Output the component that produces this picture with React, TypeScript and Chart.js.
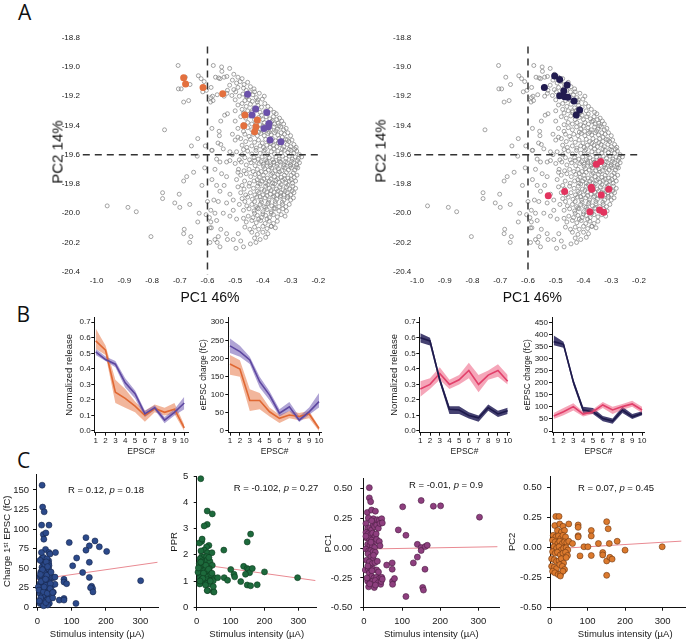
import React, { useEffect, useRef } from "react";
import { Chart, registerables } from "chart.js";
Chart.register(...registerables);

const SANS = "'Liberation Sans', Arial, Helvetica, sans-serif";
type Pt = [number, number];

// ---------------- Panel A data (PC1, PC2) ----------------
const A_X_TICKS = [-1.0, -0.9, -0.8, -0.7, -0.6, -0.5, -0.4, -0.3, -0.2];
const A_Y_TICKS = [-18.8, -19.0, -19.2, -19.4, -19.6, -19.8, -20.0, -20.2, -20.4];

const GRAY_SPARSE: Pt[] = [
  [-0.706,-18.99],[-0.633,-19.06],[-0.623,-19.08],[-0.663,-19.12],[-0.705,-19.15],[-0.617,-19.17],[-0.686,-19.24],[-0.668,-19.23],[-0.589,-19.24],[-0.755,-19.43],
  [-0.635,-19.49],[-0.658,-19.54],[-0.608,-19.54],[-0.637,-19.61],[-0.585,-19.57],[-0.65,-19.72],[-0.675,-19.75],[-0.686,-19.78],[-0.61,-19.69],[-0.62,-19.81],
  [-0.762,-19.86],[-0.762,-19.9],[-0.702,-19.87],[-0.718,-19.93],[-0.7,-19.96],[-0.664,-19.94],[-0.962,-19.95],[-0.887,-19.96],[-0.857,-19.99],[-0.63,-20.0],
  [-0.6,-19.92],[-0.593,-20.03],[-0.605,-20.01],[-0.635,-20.06],[-0.586,-20.1],[-0.684,-20.11],[-0.686,-20.14],[-0.66,-20.16],[-0.804,-20.16],[-0.664,-20.2],[-0.591,-20.2],
  [-0.68,-19.07],[-0.695,-19.15],[-0.612,-19.1],[-0.604,-19.16],[-0.582,-19.2],[-0.58,-19.23],
  [-0.579,-18.99],[-0.549,-19.0],[-0.571,-19.07],[-0.555,-19.08],[-0.54,-19.07],[-0.587,-19.14],[-0.588,-19.21],[-0.565,-19.19],[-0.528,-19.16],[-0.538,-19.33],
  [-0.528,-19.32],[-0.552,-19.37],[-0.584,-19.42],[-0.558,-19.44],[-0.557,-19.47],[-0.562,-19.52],[-0.552,-19.53],[-0.583,-19.57],[-0.543,-19.56],[-0.519,-19.58],
  [-0.567,-19.63],[-0.555,-19.65],[-0.531,-19.65],[-0.519,-19.64],[-0.573,-19.7],[-0.549,-19.73],[-0.584,-19.77],[-0.567,-19.81],[-0.531,-19.75],[-0.54,-19.81],
  [-0.555,-19.85],[-0.519,-19.87],[-0.577,-19.91],[-0.561,-19.92],[-0.531,-19.93],[-0.507,-19.91],[-0.588,-19.98],[-0.573,-20.0],[-0.543,-20.0],[-0.507,-19.98],
  [-0.588,-20.06],[-0.567,-20.05],[-0.519,-20.02],[-0.495,-20.04],[-0.591,-20.1],[-0.552,-20.11],[-0.531,-20.14],[-0.489,-20.14],[-0.561,-20.16],[-0.573,-20.18],
  [-0.528,-20.18],[-0.507,-20.18],[-0.555,-20.23],[-0.565,-20.2],[-0.497,-20.24],
];

const GRAY_CORE: Pt[] = [
  [-0.52,-19.01],[-0.548,-19.03],[-0.505,-19.05],[-0.49,-19.07],[-0.53,-19.065],[-0.475,-19.08],[-0.56,-19.075],
  [-0.51,-19.09],[-0.495,-19.11],[-0.482,-19.1],[-0.468,-19.12],[-0.455,-19.105],[-0.445,-19.135],[-0.432,-19.15],[-0.47,-19.145],[-0.49,-19.14],[-0.505,-19.155],[-0.46,-19.16],[-0.52,-19.125],
  [-0.53,-19.18],[-0.512,-19.195],[-0.498,-19.17],[-0.485,-19.2],[-0.472,-19.185],[-0.458,-19.205],[-0.447,-19.17],[-0.436,-19.19],[-0.424,-19.21],[-0.413,-19.18],[-0.402,-19.22],[-0.395,-19.2],[-0.465,-19.23],[-0.45,-19.225],[-0.438,-19.235],[-0.42,-19.24],[-0.5,-19.225],[-0.54,-19.2],
  [-0.49,-19.26],[-0.475,-19.25],[-0.46,-19.27],[-0.445,-19.255],[-0.432,-19.28],[-0.418,-19.262],[-0.405,-19.275],[-0.393,-19.25],[-0.382,-19.27],[-0.372,-19.29],[-0.39,-19.3],[-0.41,-19.31],[-0.425,-19.295],[-0.44,-19.31],[-0.455,-19.3],[-0.47,-19.315],[-0.36,-19.31],[-0.352,-19.32],[-0.5,-19.3],
  [-0.48,-19.34],[-0.462,-19.35],[-0.446,-19.335],[-0.43,-19.36],[-0.415,-19.345],[-0.4,-19.36],[-0.388,-19.34],[-0.375,-19.355],[-0.362,-19.34],[-0.35,-19.36],[-0.34,-19.35],[-0.332,-19.37],[-0.345,-19.385],[-0.358,-19.39],[-0.37,-19.375],[-0.382,-19.39],[-0.395,-19.38],[-0.41,-19.395],[-0.424,-19.38],[-0.44,-19.39],[-0.455,-19.38],[-0.47,-19.395],[-0.325,-19.39],[-0.5,-19.37],
  [-0.49,-19.42],[-0.47,-19.44],[-0.455,-19.415],[-0.44,-19.43],[-0.425,-19.41],[-0.41,-19.425],[-0.396,-19.44],[-0.384,-19.415],[-0.372,-19.43],[-0.36,-19.41],[-0.348,-19.425],[-0.336,-19.41],[-0.325,-19.43],[-0.316,-19.42],[-0.31,-19.45],[-0.322,-19.46],[-0.334,-19.45],[-0.346,-19.465],[-0.358,-19.45],[-0.37,-19.465],[-0.382,-19.455],[-0.395,-19.47],[-0.408,-19.455],[-0.42,-19.47],[-0.435,-19.46],[-0.45,-19.475],[-0.465,-19.46],[-0.3,-19.47],[-0.51,-19.46],
  [-0.5,-19.5],[-0.48,-19.49],[-0.462,-19.51],[-0.445,-19.495],[-0.43,-19.515],[-0.416,-19.5],[-0.402,-19.52],[-0.39,-19.495],[-0.378,-19.51],[-0.366,-19.49],[-0.354,-19.505],[-0.342,-19.49],[-0.33,-19.51],[-0.318,-19.495],[-0.306,-19.51],[-0.295,-19.5],[-0.288,-19.53],[-0.3,-19.545],[-0.312,-19.53],[-0.325,-19.545],[-0.337,-19.53],[-0.35,-19.545],[-0.362,-19.535],[-0.374,-19.55],[-0.386,-19.535],[-0.398,-19.55],[-0.41,-19.54],[-0.424,-19.555],[-0.44,-19.54],[-0.458,-19.55],[-0.475,-19.535],[-0.28,-19.55],
  [-0.495,-19.58],[-0.475,-19.6],[-0.455,-19.575],[-0.44,-19.595],[-0.425,-19.57],[-0.41,-19.59],[-0.396,-19.575],[-0.383,-19.6],[-0.37,-19.58],[-0.358,-19.595],[-0.346,-19.575],[-0.334,-19.59],[-0.322,-19.57],[-0.31,-19.585],[-0.299,-19.57],[-0.288,-19.59],[-0.278,-19.575],[-0.268,-19.6],[-0.272,-19.625],[-0.283,-19.615],[-0.294,-19.63],[-0.305,-19.61],[-0.317,-19.625],[-0.329,-19.61],[-0.341,-19.63],[-0.353,-19.615],[-0.365,-19.635],[-0.377,-19.62],[-0.39,-19.635],[-0.403,-19.615],[-0.417,-19.63],[-0.432,-19.62],[-0.448,-19.635],[-0.465,-19.62],[-0.485,-19.635],[-0.26,-19.615],[-0.51,-19.6],
  [-0.5,-19.66],[-0.478,-19.65],[-0.46,-19.67],[-0.443,-19.655],[-0.428,-19.675],[-0.413,-19.66],[-0.398,-19.68],[-0.385,-19.655],[-0.372,-19.67],[-0.36,-19.65],[-0.348,-19.665],[-0.336,-19.65],[-0.324,-19.67],[-0.312,-19.655],[-0.3,-19.67],[-0.289,-19.655],[-0.278,-19.67],[-0.268,-19.655],[-0.274,-19.69],[-0.285,-19.705],[-0.297,-19.69],[-0.308,-19.705],[-0.32,-19.69],[-0.332,-19.71],[-0.344,-19.695],[-0.356,-19.71],[-0.368,-19.69],[-0.38,-19.705],[-0.393,-19.695],[-0.406,-19.715],[-0.42,-19.7],[-0.435,-19.715],[-0.45,-19.7],[-0.468,-19.71],[-0.488,-19.7],
  [-0.48,-19.74],[-0.46,-19.73],[-0.444,-19.75],[-0.428,-19.735],[-0.413,-19.755],[-0.398,-19.74],[-0.384,-19.76],[-0.371,-19.735],[-0.358,-19.75],[-0.346,-19.735],[-0.334,-19.755],[-0.322,-19.74],[-0.31,-19.76],[-0.298,-19.74],[-0.287,-19.755],[-0.277,-19.74],[-0.282,-19.78],[-0.293,-19.795],[-0.305,-19.78],[-0.317,-19.795],[-0.329,-19.775],[-0.341,-19.79],[-0.353,-19.775],[-0.365,-19.795],[-0.377,-19.78],[-0.39,-19.795],[-0.403,-19.78],[-0.417,-19.795],[-0.432,-19.78],[-0.448,-19.795],[-0.466,-19.78],[-0.495,-19.77],
  [-0.49,-19.82],[-0.468,-19.835],[-0.45,-19.815],[-0.434,-19.83],[-0.419,-19.815],[-0.404,-19.835],[-0.39,-19.815],[-0.377,-19.83],[-0.364,-19.815],[-0.351,-19.835],[-0.339,-19.82],[-0.327,-19.84],[-0.315,-19.82],[-0.303,-19.835],[-0.292,-19.815],[-0.282,-19.83],[-0.288,-19.86],[-0.3,-19.875],[-0.312,-19.86],[-0.324,-19.875],[-0.336,-19.86],[-0.348,-19.875],[-0.36,-19.855],[-0.373,-19.87],[-0.386,-19.855],[-0.4,-19.875],[-0.414,-19.86],[-0.429,-19.875],[-0.445,-19.86],[-0.462,-19.875],[-0.48,-19.86],
  [-0.475,-19.9],[-0.455,-19.89],[-0.438,-19.905],[-0.422,-19.89],[-0.407,-19.91],[-0.392,-19.895],[-0.378,-19.91],[-0.364,-19.89],[-0.35,-19.905],[-0.337,-19.89],[-0.324,-19.91],[-0.312,-19.895],[-0.3,-19.91],[-0.29,-19.895],[-0.305,-19.94],[-0.317,-19.955],[-0.329,-19.94],[-0.342,-19.955],[-0.355,-19.935],[-0.368,-19.95],[-0.382,-19.935],[-0.396,-19.955],[-0.41,-19.94],[-0.425,-19.955],[-0.44,-19.94],[-0.458,-19.95],[-0.485,-19.94],
  [-0.47,-19.98],[-0.45,-19.97],[-0.432,-19.985],[-0.416,-19.97],[-0.4,-19.99],[-0.385,-19.975],[-0.37,-19.99],[-0.356,-19.97],[-0.342,-19.985],[-0.328,-19.97],[-0.315,-19.985],[-0.32,-20.02],[-0.334,-20.01],[-0.348,-20.025],[-0.362,-20.01],[-0.376,-20.03],[-0.39,-20.015],[-0.405,-20.03],[-0.42,-20.015],[-0.436,-20.03],[-0.453,-20.02],[-0.47,-20.035],
  [-0.46,-20.06],[-0.44,-20.05],[-0.424,-20.065],[-0.408,-20.05],[-0.392,-20.07],[-0.377,-20.055],[-0.362,-20.07],[-0.348,-20.055],[-0.355,-20.1],[-0.37,-20.09],[-0.385,-20.105],[-0.4,-20.09],[-0.415,-20.11],[-0.43,-20.095],[-0.447,-20.11],[-0.465,-20.095],
  [-0.44,-20.13],[-0.42,-20.145],[-0.4,-20.13],[-0.382,-20.14],[-0.43,-20.17],[-0.41,-20.18],[-0.39,-20.165],[-0.425,-20.2],[-0.445,-20.21],[-0.47,-20.23],[-0.48,-20.19],[-0.37,-20.09],
];

const GRAY_CORE2: Pt[] = [
  [-0.405,-19.33],[-0.383,-19.322],[-0.366,-19.368],[-0.342,-19.402],[-0.353,-19.438],[-0.377,-19.445],[-0.4,-19.405],[-0.415,-19.445],[-0.33,-19.48],[-0.312,-19.498],
  [-0.345,-19.518],[-0.37,-19.522],[-0.392,-19.565],[-0.36,-19.56],[-0.33,-19.56],[-0.305,-19.563],[-0.285,-19.562],[-0.275,-19.64],[-0.296,-19.645],[-0.318,-19.648],
  [-0.34,-19.645],[-0.362,-19.652],[-0.385,-19.645],[-0.407,-19.648],[-0.43,-19.64],[-0.28,-19.685],[-0.302,-19.68],[-0.326,-19.682],[-0.35,-19.68],[-0.374,-19.68],
  [-0.398,-19.665],[-0.29,-19.725],[-0.315,-19.722],[-0.34,-19.718],[-0.365,-19.725],[-0.39,-19.72],[-0.415,-19.728],[-0.298,-19.77],[-0.322,-19.765],[-0.347,-19.765],
  [-0.371,-19.768],[-0.396,-19.765],[-0.42,-19.77],[-0.31,-19.808],[-0.334,-19.805],[-0.358,-19.8],[-0.383,-19.805],[-0.41,-19.8],[-0.295,-19.848],[-0.32,-19.85],
  [-0.345,-19.848],[-0.37,-19.845],[-0.395,-19.845],[-0.42,-19.85],[-0.31,-19.885],[-0.335,-19.88],[-0.36,-19.885],[-0.385,-19.88],[-0.41,-19.888],[-0.33,-19.925],
  [-0.355,-19.92],[-0.38,-19.925],[-0.405,-19.925],[-0.43,-19.92],[-0.36,-19.965],[-0.39,-19.96],[-0.42,-19.965],[-0.37,-20.0],[-0.4,-20.005],[-0.43,-20.0],
  [-0.385,-20.04],[-0.415,-20.04],[-0.44,-19.3],[-0.418,-19.225],[-0.43,-19.17],[-0.46,-19.2],[-0.475,-19.29],[-0.49,-19.48],[-0.47,-19.565],[-0.49,-19.72],
  [-0.475,-19.81],[-0.465,-19.92],
];

const ORANGE_A: Pt[] = [[-0.686,-19.074],[-0.679,-19.117],[-0.616,-19.14],[-0.545,-19.183],[-0.465,-19.329],[-0.469,-19.402],[-0.42,-19.363],[-0.425,-19.409],[-0.43,-19.443]];
const PURPLE_A: Pt[] = [[-0.455,-19.187],[-0.426,-19.288],[-0.439,-19.329],[-0.386,-19.311],[-0.378,-19.386],[-0.38,-19.409],[-0.396,-19.42],[-0.374,-19.5],[-0.335,-19.511]];
const NAVY_A: Pt[] = [[-0.504,-19.062],[-0.486,-19.085],[-0.541,-19.14],[-0.459,-19.124],[-0.471,-19.162],[-0.486,-19.197],[-0.468,-19.203],[-0.456,-19.208],[-0.434,-19.233],[-0.414,-19.295],[-0.426,-19.329]];
const PINK_A: Pt[] = [[-0.338,-19.646],[-0.354,-19.666],[-0.527,-19.88],[-0.468,-19.851],[-0.372,-19.823],[-0.37,-19.837],[-0.336,-19.876],[-0.309,-19.837],[-0.377,-19.99],[-0.342,-19.978],[-0.327,-19.994]];

const A1_HLINE: Pt[] = [[-1.05,-19.6],[-0.2,-19.6]];
const A1_VLINE: Pt[] = [[-0.6,-18.86],[-0.6,-20.42]];
const A2_HLINE: Pt[] = [[-1.01,-19.6],[-0.195,-19.6]];
const A2_VLINE: Pt[] = [[-0.6,-18.86],[-0.6,-20.4]];

// ---------------- Panel B data ----------------
const EPSC = [1, 2, 3, 4, 5, 6, 7, 8, 9, 10];
const NR_TICKS = [0, 0.1, 0.2, 0.3, 0.4, 0.5, 0.6, 0.7];
const CH_TICKS_B2 = [0, 50, 100, 150, 200, 250, 300];
const CH_TICKS_B4 = [0, 50, 100, 150, 200, 250, 300, 350, 400, 450];

const ORANGE_NR_MEAN = [0.58, 0.52, 0.25, 0.21, 0.16, 0.10, 0.145, 0.12, 0.14, 0.02];
const ORANGE_NR_LO = [0.53, 0.49, 0.18, 0.15, 0.12, 0.06, 0.12, 0.10, 0.11, 0.0];
const ORANGE_NR_HI = [0.66, 0.55, 0.33, 0.27, 0.19, 0.13, 0.17, 0.15, 0.18, 0.04];
const PURPLE_NR_MEAN = [0.51, 0.46, 0.43, 0.31, 0.24, 0.11, 0.15, 0.07, 0.12, 0.18];
const PURPLE_NR_LO = [0.49, 0.45, 0.41, 0.28, 0.21, 0.09, 0.135, 0.05, 0.10, 0.14];
const PURPLE_NR_HI = [0.53, 0.48, 0.45, 0.34, 0.26, 0.13, 0.165, 0.09, 0.14, 0.22];

const PURPLE_CH_MEAN = [235, 219, 196, 136, 99, 49, 67, 30, 53, 81];
const PURPLE_CH_LO = [215, 205, 185, 120, 85, 40, 55, 25, 45, 65];
const PURPLE_CH_HI = [255, 235, 205, 150, 110, 60, 80, 40, 65, 105];
const ORANGE_CH_MEAN = [185, 171, 84, 84, 53, 35, 44, 40, 47, 7];
const ORANGE_CH_LO = [155, 150, 55, 60, 40, 22, 35, 30, 35, 0];
const ORANGE_CH_HI = [210, 195, 115, 105, 65, 45, 55, 50, 55, 12];

const NAVY_NR_MEAN = [0.60, 0.58, 0.33, 0.14, 0.135, 0.10, 0.085, 0.15, 0.11, 0.13];
const NAVY_NR_LO = [0.57, 0.55, 0.31, 0.11, 0.11, 0.08, 0.06, 0.13, 0.09, 0.11];
const NAVY_NR_HI = [0.63, 0.60, 0.35, 0.16, 0.16, 0.12, 0.10, 0.17, 0.13, 0.15];
const PINK_NR_MEAN = [0.27, 0.30, 0.37, 0.30, 0.33, 0.39, 0.30, 0.36, 0.39, 0.32];
const PINK_NR_LO = [0.22, 0.27, 0.33, 0.27, 0.30, 0.34, 0.25, 0.33, 0.35, 0.30];
const PINK_NR_HI = [0.32, 0.34, 0.41, 0.33, 0.36, 0.44, 0.36, 0.39, 0.43, 0.36];

const NAVY_CH_MEAN = [370, 359, 204, 87, 80, 52, 41, 87, 59, 73];
const NAVY_CH_LO = [355, 345, 190, 75, 70, 40, 30, 75, 50, 65];
const NAVY_CH_HI = [395, 370, 215, 100, 95, 62, 52, 100, 70, 82];
const PINK_CH_MEAN = [62, 80, 101, 70, 80, 108, 87, 101, 112, 87];
const PINK_CH_LO = [50, 65, 85, 60, 70, 95, 70, 88, 100, 75];
const PINK_CH_HI = [75, 95, 115, 80, 90, 120, 100, 112, 125, 100];

// ---------------- Panel C data (stimulus µA, value) ----------------
const STIM_TICKS = [0, 100, 200, 300];
const C1_TICKS = [0, 25, 50, 75, 100, 125, 150];
const C2_TICKS = [0, 1, 2, 3, 4, 5];
const PC_TICKS = [-0.5, -0.25, 0, 0.25, 0.5];

const C1_POINTS: Pt[] = [
  [14,156],[15.5,128],[20,122],[12.5,105],[34,105],[17.5,93],[25,95],[19,87],[24,74],[34,70],[37,68],[53,70],
  [13.6,62.6],[17.5,63.8],[15.5,57.5],[13.6,51.2],[19.4,50.4],[25.2,47],[33,59.6],[33,56.3],[34,53.3],[33,49.1],[21.4,42.8],[7.8,38.6],[13.6,38.6],
  [17.5,34.4],[27.2,34.4],[35,34.4],[30,37.8],[17.5,30.2],[7.8,30.2],[14.6,26],[2.9,26],[22.3,23.9],[32,25.2],[41.7,26.9],[51.5,29.4],[23.3,19.7],
  [37,19.7],[46.6,19.3],[7.8,17.6],[15.5,15.5],[22.3,13.4],[32,15.5],[37,13.4],[41.7,15.5],[27.2,9.2],[12.6,9.2],[17.5,7.1],[7.8,5],[35,5],[22.3,2.9],
  [30,2.9],[15.5,4.2],[10,45],[20,44],[28,41],[5,22],[10,12],[18,20],[25,28],[38,30],[43,38],[8,60],[22,55],[28,62],[12,70],[26,58],[40,45],[18,2],
  [25,6],[6,8],[33,10],[45,12],[11,33],[29,18],[37,24],[20,26],[15,48],[30,52],[24,36],[9,42],[45,19],[48,38],
  [93,82.7],[141.7,89],[151.5,78.5],[168,84.8],[180.6,77.3],[202,71.4],[141.7,73],[103,53],[114.6,63],[151.5,57.5],[132,44.5],[151.5,38.2],[158,26.9],
  [161,24],[155,25],[162,19.7],[77.7,35.7],[77.7,32.3],[85.4,30.2],[51.5,38.6],[64,9.2],[77.7,11.3],[77.7,9.2],[112.6,5],[301,34],
];
const C1_FIT: Pt[] = [[0, 35.5], [350, 57.5]];

const C2_POINTS: Pt[] = [
  [31,3.67],[46,3.56],[31,3.16],[22,3.1],[14.6,2.51],[7.8,2.45],[36,2.36],[29,2.3],[22,2.18],[12.7,2.15],[32,2.08],[45,2.08],[80,2.18],[149,2.49],[159,2.79],[12,4.9],
  [14.6,1.93],[22.4,1.93],[29.3,1.93],[9.8,1.85],[17.6,1.77],[25.4,1.75],[31.2,1.8],[39,1.75],[45.9,1.6],[7.8,1.67],[14.6,1.62],[22.4,1.56],[29.3,1.53],
  [37.1,1.48],[9.8,1.48],[14.6,1.38],[23.4,1.4],[29.3,1.35],[39,1.32],[7.8,1.28],[18.5,1.22],[25.4,1.19],[33.2,1.16],[43.9,1.13],[51.7,1.13],[9.8,1.13],
  [15.6,1.07],[23.4,1.03],[31.2,1.05],[39,1.01],[48.8,1.01],[12.7,0.95],[21.5,0.95],[30.2,0.91],[39,0.89],[8.8,0.89],[32.2,0.64],[48.8,0.6],[3.9,1.34],
  [5,1.5],[12,1.72],[20,1.3],[27,1.6],[35,1.45],[42,1.25],[18,1.1],[26,0.85],[10,1.0],[36,1.9],[16,2.6],[40,1.0],[45,1.3],
  [62,1.13],[81,1.13],[91,1.03],[100.5,1.44],[110,1.26],[112,1.16],[130,0.98],[138.5,1.56],[149,1.48],[153,1.44],[156,1.32],[164,1.48],[144,1.26],
  [149,0.85],[159,0.82],[178.5,0.86],[200,1.35],[297.6,1.13],[49,0.79],[51,0.58],[31,0.64],
];
const C2_FIT: Pt[] = [[0, 1.65], [350, 1.02]];

const C3_POINTS: Pt[] = [
  [14,0.508],[14,0.422],[17.5,0.39],[8.7,0.3],[20,0.32],[30,0.31],[24.5,0.247],[11.4,0.253],
  [5.2,0.207],[9.6,0.167],[15.7,0.172],[20.1,0.153],[24.5,0.194],[28,0.18],[33.2,0.194],[37.6,0.167],[35,0.239],[40.2,0.234],[46.4,0.247],[42,0.207],[48,0.212],
  [5.2,0.132],[11.4,0.121],[17.5,0.113],[22.7,0.126],[28.9,0.099],[7,0.086],[14,0.078],[20.1,0.067],[27.1,0.051],[33.2,0.073],[40.2,0.056],
  [9.6,0.032],[15.7,0.024],[21.9,0.019],[28,0.005],[5.2,-0.008],[12.2,-0.022],[17.5,-0.022],[23.6,-0.03],[29.7,-0.035],[10.5,-0.048],[17.5,-0.075],
  [24.5,-0.094],[7,-0.102],[14,-0.116],[21.9,-0.129],[28.9,-0.121],[35,-0.11],[3.5,-0.183],[11.4,-0.175],[17.5,-0.169],[24.5,-0.177],[33.2,-0.183],
  [14,-0.21],[20.1,-0.237],[26.2,-0.25],[33.2,-0.245],[40.2,-0.255],[46.4,-0.245],[9.6,-0.277],[15.7,-0.29],[22.7,-0.277],[29.7,-0.272],[37.6,-0.29],
  [43.7,-0.304],[12.2,-0.325],[27.1,-0.331],[21,-0.19],
  [5,0.1],[18,0.05],[25,-0.06],[32,0.12],[10,-0.15],[38,-0.2],[45,-0.28],[20,0.23],[8,-0.25],[30,-0.31],[15,-0.3],[42,0.02],[48,-0.26],
  [90,0.153],[101.5,0.347],[110,0.108],[150,0.4],[182,0.352],[201,0.355],[303,0.26],[140,0.032],[150,0.005],[150,-0.02],[160.5,0.013],[166,0.024],
  [140,-0.075],[129.5,-0.124],[59.5,-0.142],[74,-0.124],[74,-0.177],[160,-0.177],[75,-0.277],[75,-0.304],[80,-0.255],[154,-0.33],[156,-0.352],[110,-0.406],
];
const C3_FIT: Pt[] = [[0, -0.008], [350, 0.012]];

const C4_POINTS: Pt[] = [
  [15.5,0.261],[24.1,0.261],[12.9,0.185],[25.9,0.198],[34.5,0.179],[19.8,0.144],[30.2,0.13],[38.8,0.144],[8.6,0.103],[15.5,0.09],[22.4,0.098],
  [28.4,0.076],[34.5,0.103],[41.4,0.09],[6.9,0.063],[13.8,0.049],[20.7,0.035],[25.9,0.054],[32.8,0.035],[38.8,0.049],[44.8,0.043],[50,0.054],
  [10.3,0.008],[17.2,-0.005],[24.1,0.008],[30.2,-0.019],[36.2,-0.005],[43.1,0],[47.4,-0.019],[6.9,-0.033],[13.8,-0.046],[19.8,-0.038],[27.6,-0.06],
  [34.5,-0.046],[41.4,-0.038],[46.6,-0.065],[4.3,-0.092],[11.2,-0.1],[17.2,-0.114],[24.1,-0.109],[30.2,-0.092],[36.2,-0.128],[43.1,-0.082],
  [4.3,-0.155],[11.2,-0.163],[17.2,-0.174],[25.9,-0.141],[32.8,-0.155],[38.8,-0.182],[6.9,-0.196],[12.9,-0.209],[21.6,-0.223],[28.4,-0.217],
  [34.5,-0.196],[27.6,-0.236],
  [50,0.198],[60,0.035],[75,0.19],[75,0.17],[75,0.1],[75,0.09],[80,-0.068],[90.5,0.008],[101,0.008],[110,0.144],[110,0.098],[110,-0.065],[129,0.035],
  [140.5,-0.04],[140.5,-0.06],[151,0.217],[155,0.158],[158,0.035],[151,-0.11],[159.5,-0.08],[165.5,-0.095],[151,-0.23],[179,0.054],[200,-0.02],[299,0.008],
];
const C4_FIT: Pt[] = [[0, -0.011], [350, 0.055]];

// ---------------- helpers ----------------
const toXY = (pts: Pt[]) => pts.map(([x, y]) => ({ x, y }));
const series = (xs: number[], ys: number[]) => xs.map((x, i) => ({ x, y: ys[i] }));

interface AxisSpec {
  min: number; max: number; ticks: number[]; fmt: (v: number) => string;
  size: number; pad: number; tick: number; font: number; line: boolean;
  title?: string; titleFont?: number; titlePad?: number;
}

function makeAxis(a: AxisSpec, horizontal: boolean): any {
  return {
    type: "linear",
    position: horizontal ? "bottom" : "left",
    min: a.min,
    max: a.max,
    afterBuildTicks: (s: any) => { s.ticks = a.ticks.map((v) => ({ value: v })); },
    afterFit: (s: any) => { if (horizontal) s.height = a.size; else s.width = a.size; },
    ticks: {
      autoSkip: false, maxRotation: 0, minRotation: 0, padding: a.pad, color: "#1a1a1a",
      font: { family: SANS, size: a.font },
      callback: (v: any) => a.fmt(Number(v)),
    },
    grid: { display: a.tick > 0, drawOnChartArea: false, drawTicks: a.tick > 0, tickLength: a.tick, color: "#111", lineWidth: 1 },
    border: { display: a.line, color: "#111", width: 1 },
    title: a.title
      ? {
          display: true, text: a.title, color: "#1a1a1a",
          font: { family: SANS, size: a.titleFont },
          padding: horizontal ? { top: 0, bottom: a.titlePad } : { top: a.titlePad, bottom: 0 },
        }
      : { display: false },
  };
}

function baseOptions(padding: any, x: any, y: any): any {
  return {
    responsive: false,
    animation: false,
    events: [],
    layout: { padding },
    plugins: { legend: { display: false }, tooltip: { enabled: false } },
    scales: { x, y },
  };
}

const f1 = (v: number) => v.toFixed(1);
const f2 = (v: number) => v.toFixed(2);
const fi = (v: number) => String(Math.round(v));

// ---------- Panel A configs ----------
function pcaConfig(colored: { pts: Pt[]; color: string }[], hline: Pt[], vline: Pt[], xMin: number, xMax: number, ySize: number, padRight: number): any {
  const dash = { type: "scatter", showLine: true, borderColor: "#333", borderWidth: 1.5, borderDash: [7, 5], pointRadius: 0, clip: false };
  return {
    type: "scatter",
    data: {
      datasets: [
        ...colored.map((c) => ({ type: "scatter", data: toXY(c.pts), pointRadius: 3.5, backgroundColor: c.color, borderColor: c.color, borderWidth: 0, clip: false })),
        { ...dash, data: toXY(hline) },
        { ...dash, data: toXY(vline) },
        { type: "scatter", data: toXY([...GRAY_SPARSE, ...GRAY_CORE, ...GRAY_CORE2]), pointRadius: 2.0, backgroundColor: "rgba(255,255,255,0)", borderColor: "#858585", borderWidth: 0.75, clip: false },
      ],
    },
    options: baseOptions(
      { left: 0, right: padRight, top: 37.7, bottom: 0 },
      makeAxis({ min: xMin, max: xMax, ticks: A_X_TICKS, fmt: f1, size: 38.3, pad: 4.5, tick: 0, font: 8, line: false }, true),
      makeAxis({ min: -20.4, max: -18.8, ticks: A_Y_TICKS, fmt: f1, size: ySize, pad: 2.9, tick: 0, font: 8, line: false }, false)
    ),
  };
}

// ---------- Panel B configs ----------
interface Band { mean: number[]; lo: number[]; hi: number[]; line: string; fill: string }
function bandConfig(bands: Band[], x: AxisSpec, y: AxisSpec, padRight: number): any {
  const lines = bands.map((b) => ({ type: "line", data: series(EPSC, b.mean), borderColor: b.line, borderWidth: 1.6, pointRadius: 0, tension: 0, fill: false }));
  const fills: any[] = [];
  bands.forEach((b) => {
    fills.push({ type: "line", data: series(EPSC, b.lo), borderWidth: 0, borderColor: "rgba(0,0,0,0)", pointRadius: 0, tension: 0, fill: false });
    fills.push({ type: "line", data: series(EPSC, b.hi), borderWidth: 0, borderColor: "rgba(0,0,0,0)", backgroundColor: b.fill, pointRadius: 0, tension: 0, fill: "-1" });
  });
  return {
    type: "line",
    data: { datasets: [...lines, ...fills] },
    options: baseOptions({ left: 0, right: padRight, top: 7, bottom: 0 }, makeAxis(x, true), makeAxis(y, false)),
  };
}

const ORANGE_BAND = { line: "#E06833", fill: "rgba(231,122,74,0.55)" };
const PURPLE_BAND = { line: "#5D47A0", fill: "rgba(123,103,185,0.6)" };
const NAVY_BAND = { line: "#1E1A4C", fill: "rgba(37,32,88,0.85)" };
const PINK_BAND = { line: "#E2406B", fill: "rgba(236,92,128,0.55)" };

const bx = (min: number, max: number): AxisSpec => ({ min, max, ticks: EPSC, fmt: fi, size: 32.3, pad: 0, tick: 3, font: 8, line: true, title: "EPSC#", titleFont: 8.5, titlePad: 8.2 });

// ---------- Panel C configs ----------
function corrConfig(pts: Pt[], fit: Pt[], fill: string, edge: string, x: AxisSpec, y: AxisSpec, padRight: number): any {
  return {
    type: "scatter",
    data: {
      datasets: [
        { type: "scatter", data: toXY(pts), pointRadius: 3, backgroundColor: fill, borderColor: edge, borderWidth: 0.6, clip: false },
        { type: "scatter", data: toXY(fit), showLine: true, borderColor: "#E98A92", borderWidth: 1, pointRadius: 0, clip: false },
      ],
    },
    options: baseOptions({ left: 0, right: padRight, top: 8, bottom: 0 }, makeAxis(x, true), makeAxis(y, false)),
  };
}
const cx = (min: number, max: number): AxisSpec => ({ min, max, ticks: STIM_TICKS, fmt: fi, size: 33.3, pad: 5, tick: 3, font: 9.5, line: true, title: "Stimulus intensity (µA)", titleFont: 9.5, titlePad: 1 });

// ---------- components ----------
function ChartCanvas({ left, top, width, height, make }: { left: number; top: number; width: number; height: number; make: () => any }) {
  const ref = useRef<HTMLCanvasElement>(null);
  useEffect(() => {
    const chart = new Chart(ref.current as HTMLCanvasElement, make());
    return () => chart.destroy();
  }, []);
  return <canvas ref={ref} width={width} height={height} style={{ position: "absolute", left, top, width, height }} />;
}

function Label({ x, y, size, rotate, children }: { x: number; y: number; size: number; rotate?: boolean; children: any }) {
  return (
    <div style={{ position: "absolute", left: x, top: y, transform: `translate(-50%,-50%)${rotate ? " rotate(-90deg)" : ""}`, fontFamily: SANS, fontSize: size, fontWeight: 400, lineHeight: 1, whiteSpace: "nowrap", color: "#111" }}>
      {children}
    </div>
  );
}

function Letter({ x, y, children }: { x: number; y: number; children: any }) {
  return <div style={{ position: "absolute", left: x, top: y, fontFamily: "'Open Sans', 'Noto Sans', sans-serif", fontSize: 21, lineHeight: "21px", color: "#111" }}>{children}</div>;
}

export default function App() {
  return (
    <div style={{ position: "absolute", left: 0, top: 0, width: 686, height: 641, background: "#fff", overflow: "hidden" }}>
      <Letter x={18} y={1.5}>A</Letter>
      <Letter x={16.5} y={303.5}>B</Letter>
      <Letter x={17} y={449.5}>C</Letter>

      {/* Panel A */}
      <ChartCanvas left={0} top={0} width={343} height={310} make={() => pcaConfig([{ pts: ORANGE_A, color: "#E3703E" }, { pts: PURPLE_A, color: "#6B50AA" }], A1_HLINE, A1_VLINE, -1.05, -0.2, 82.8, 24.7)} />
      <ChartCanvas left={343} top={0} width={343} height={310} make={() => pcaConfig([{ pts: NAVY_A, color: "#221C50" }, { pts: PINK_A, color: "#E2335E" }], A2_HLINE, A2_VLINE, -1.01, -0.195, 71.2, 45.6)} />
      <Label x={210} y={296.7} size={14}>PC1 46%</Label>
      <Label x={57.3} y={151.5} size={15} rotate>PC2 14%</Label>
      <Label x={532.3} y={296.7} size={14}>PC1 46%</Label>
      <Label x={380.3} y={150.7} size={15} rotate>PC2 14%</Label>

      {/* Panel B */}
      <ChartCanvas left={50} top={310} width={150} height={155} make={() => bandConfig(
        [{ mean: PURPLE_NR_MEAN, lo: PURPLE_NR_LO, hi: PURPLE_NR_HI, ...PURPLE_BAND }, { mean: ORANGE_NR_MEAN, lo: ORANGE_NR_LO, hi: ORANGE_NR_HI, ...ORANGE_BAND }],
        bx(0.858, 10.38),
        { min: -0.011, max: 0.734, ticks: NR_TICKS, fmt: f1, size: 44.3, pad: 0.6, tick: 3, font: 8, line: true, title: "Normalized release", titleFont: 9.5, titlePad: 13.6 },
        12)} />
      <ChartCanvas left={195} top={310} width={135} height={155} make={() => bandConfig(
        [{ mean: PURPLE_CH_MEAN, lo: PURPLE_CH_LO, hi: PURPLE_CH_HI, ...PURPLE_BAND }, { mean: ORANGE_CH_MEAN, lo: ORANGE_CH_LO, hi: ORANGE_CH_HI, ...ORANGE_BAND }],
        bx(0.828, 10.2),
        { min: -4.7, max: 314.6, ticks: CH_TICKS_B2, fmt: fi, size: 33.3, pad: 1.3, tick: 3, font: 8, line: true, title: "eEPSC charge (fC)", titleFont: 8.3, titlePad: 4 },
        9)} />
      <ChartCanvas left={380} top={310} width={140} height={155} make={() => bandConfig(
        [{ mean: NAVY_NR_MEAN, lo: NAVY_NR_LO, hi: NAVY_NR_HI, ...NAVY_BAND }, { mean: PINK_NR_MEAN, lo: PINK_NR_LO, hi: PINK_NR_HI, ...PINK_BAND }],
        bx(0.897, 10.21),
        { min: -0.011, max: 0.734, ticks: NR_TICKS, fmt: f1, size: 39.3, pad: 0.6, tick: 3, font: 8, line: true, title: "Normalized release", titleFont: 9.5, titlePad: 9 },
        10.3)} />
      <ChartCanvas left={515} top={310} width={171} height={155} make={() => bandConfig(
        [{ mean: PINK_CH_MEAN, lo: PINK_CH_LO, hi: PINK_CH_HI, ...PINK_BAND }, { mean: NAVY_CH_MEAN, lo: NAVY_CH_LO, hi: NAVY_CH_HI, ...NAVY_BAND }],
        bx(0.827, 10.27),
        { min: -7, max: 472, ticks: CH_TICKS_B4, fmt: fi, size: 37, pad: 1, tick: 3, font: 8, line: true, title: "eEPSC charge (fC)", titleFont: 8.3, titlePad: 7.3 },
        41.3)} />

      {/* Panel C */}
      <ChartCanvas left={0} top={465} width={170} height={176} make={() => corrConfig(C1_POINTS, C1_FIT, "#2C4A8B", "#15254a",
        cx(-3.8, 352.4),
        { min: -0.5, max: 169.4, ticks: C1_TICKS, fmt: fi, size: 36, pad: 4, tick: 3, font: 9.5, line: true, title: "Charge 1ˢᵗ EPSC (fC)", titleFont: 9.5, titlePad: 1.6 },
        11.7)} />
      <ChartCanvas left={160} top={465} width={170} height={176} make={() => corrConfig(C2_POINTS, C2_FIT, "#1D6A3C", "#0d3a1f",
        cx(0, 354),
        { min: -0.015, max: 5, ticks: C2_TICKS, fmt: fi, size: 36.7, pad: 5.4, tick: 3, font: 9.5, line: true, title: "PPR", titleFont: 9.5, titlePad: 8.3 },
        13.3)} />
      <ChartCanvas left={322} top={465} width={188} height={176} make={() => corrConfig(C3_POINTS, C3_FIT, "#8E3F7F", "#4a1d42",
        cx(-1.8, 355),
        { min: -0.5, max: 0.583, ticks: PC_TICKS, fmt: f2, size: 41.3, pad: 8, tick: 3, font: 9.5, line: true, title: "PC1", titleFont: 9.5, titlePad: 0.3 },
        10.7)} />
      <ChartCanvas left={505} top={465} width={200} height={176} make={() => corrConfig(C4_POINTS, C4_FIT, "#DC7A2E", "#6b3510",
        cx(0, 400.8),
        { min: -0.5, max: 0.598, ticks: PC_TICKS, fmt: f2, size: 45, pad: 5.3, tick: 3, font: 9.5, line: true, title: "PC2", titleFont: 9.5, titlePad: 1.3 },
        0)} />

      <Label x={106} y={490} size={9.5}>R = 0.12, <i>p</i> = 0.18</Label>
      <Label x={276} y={487.5} size={9.5}>R = -0.102, <i>p</i> = 0.27</Label>
      <Label x={446} y={485} size={9.5}>R = -0.01, <i>p</i> = 0.9</Label>
      <Label x={616} y={487.5} size={9.5}>R = 0.07, <i>p</i> = 0.45</Label>
    </div>
  );
}
